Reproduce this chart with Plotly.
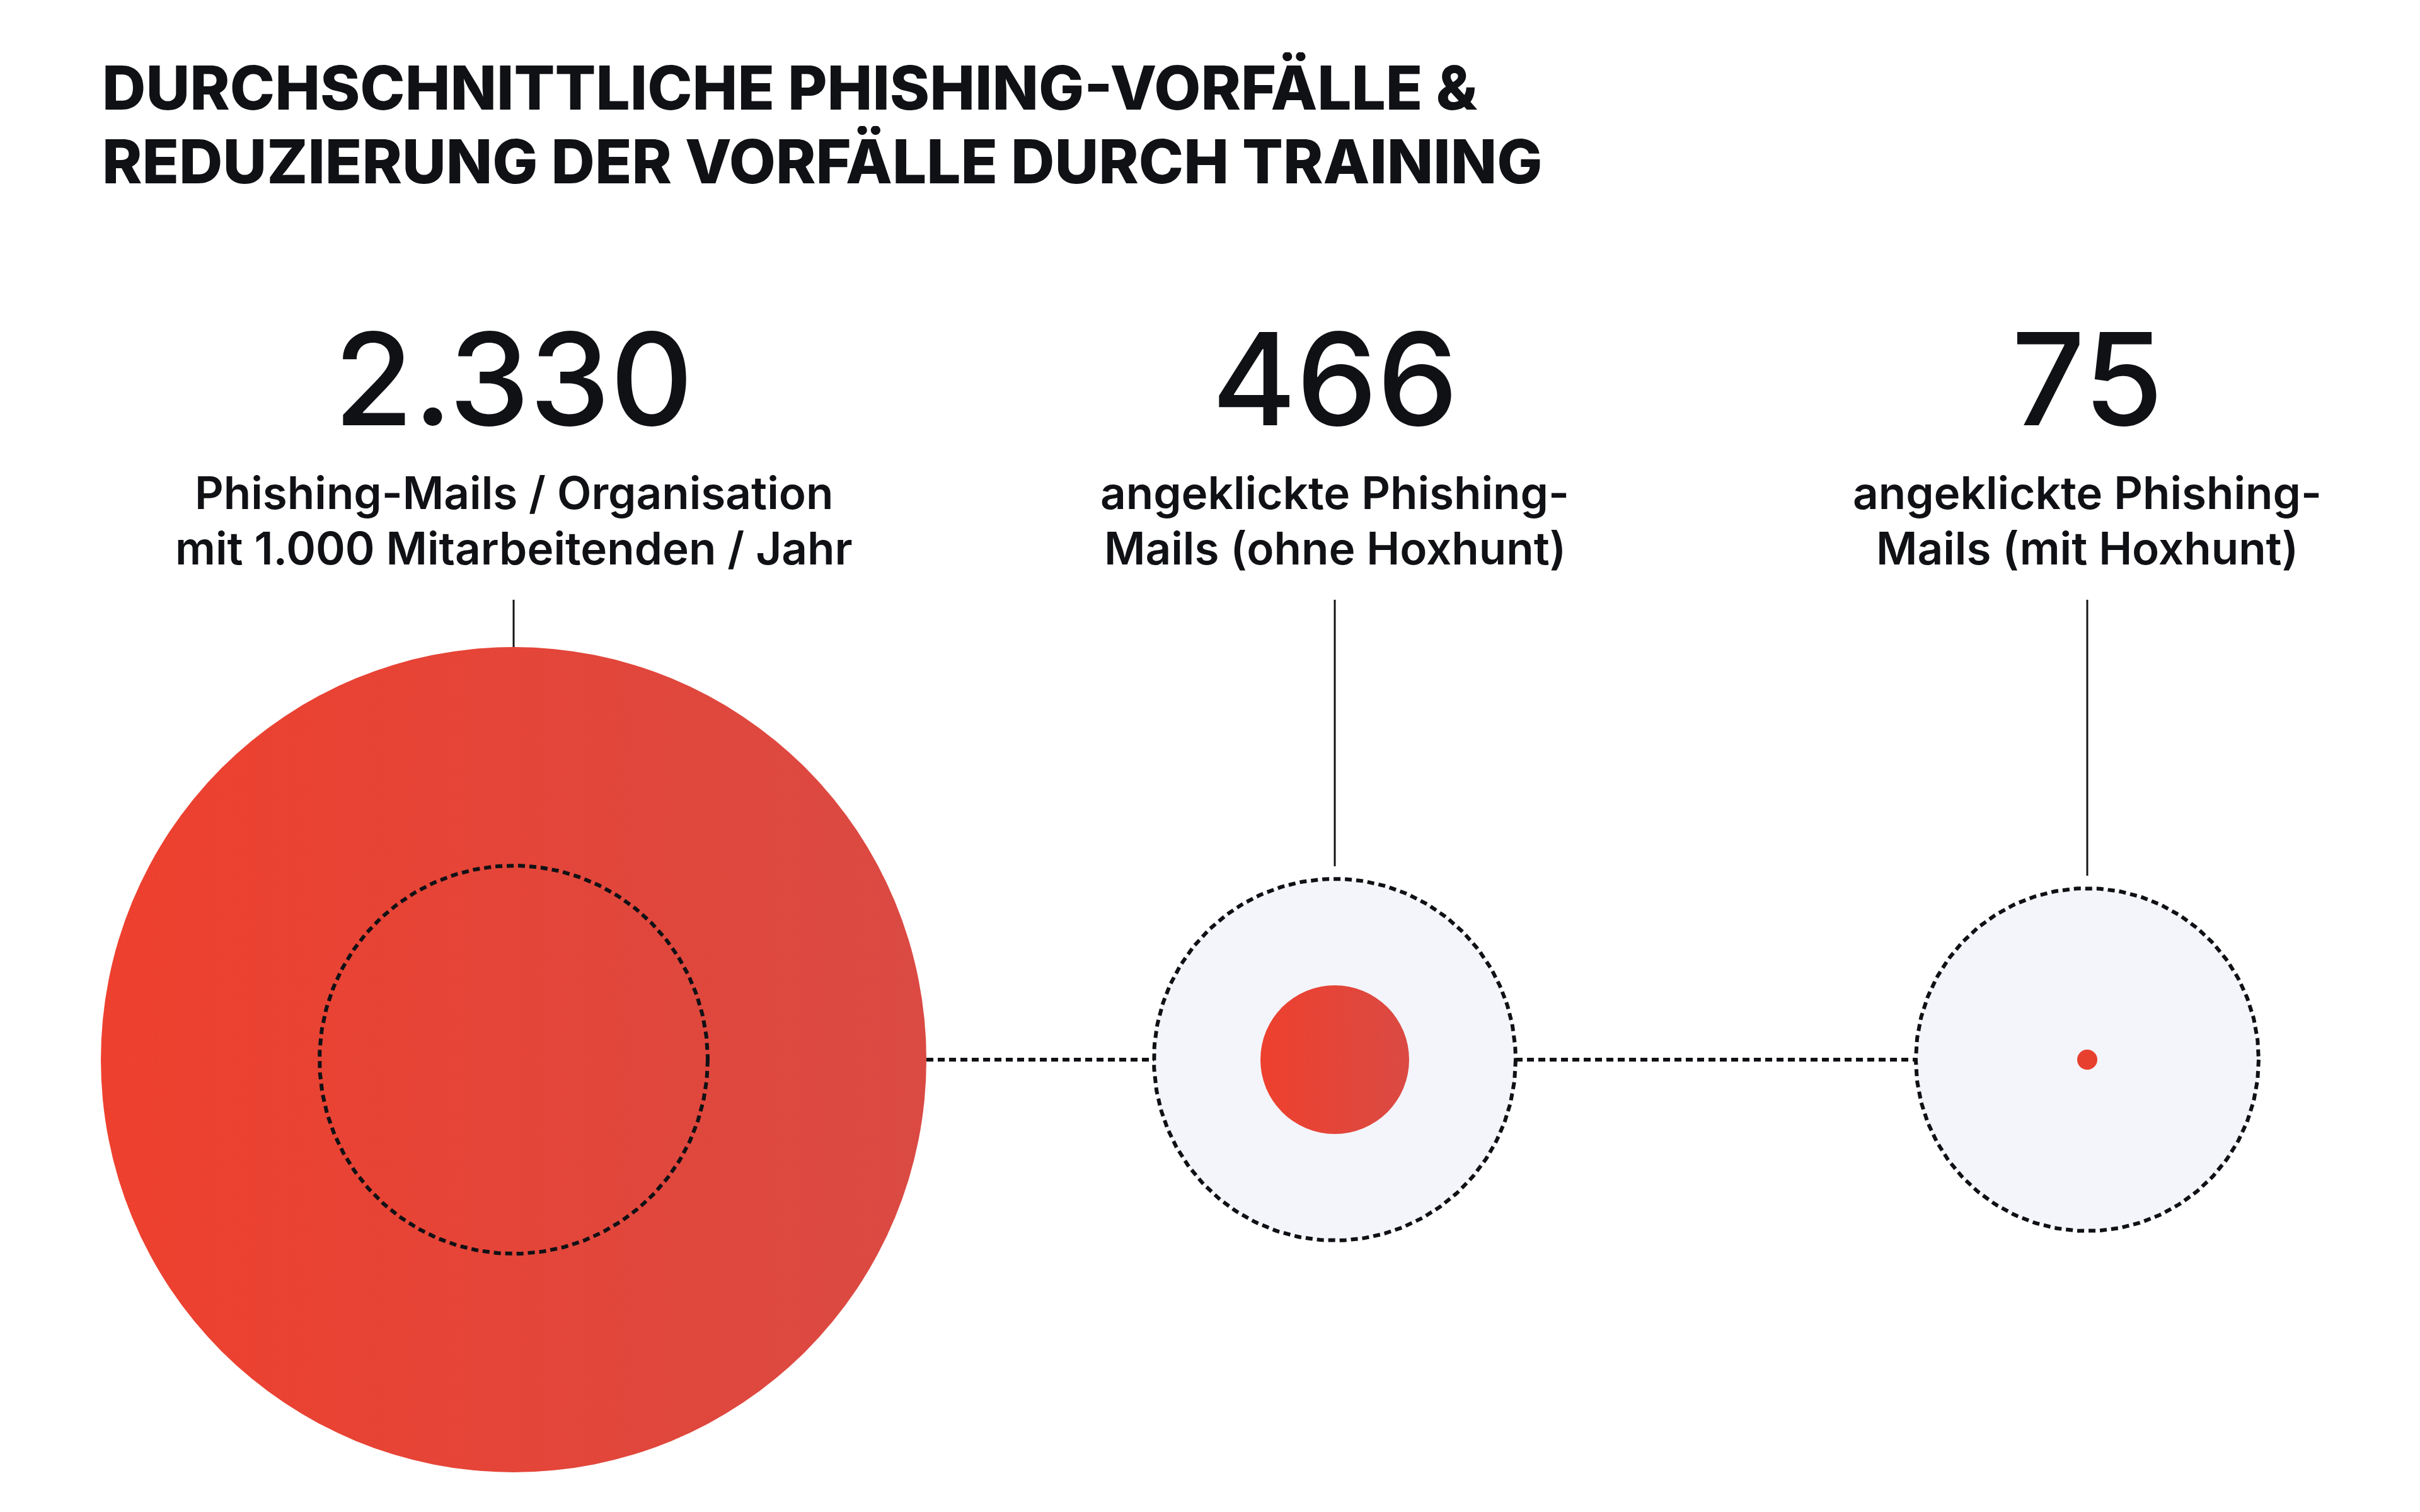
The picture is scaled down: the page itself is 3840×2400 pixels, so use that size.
import numpy as np
import plotly.graph_objects as go

# data
values = [2330, 466, 75]
number_labels = ["2.330", "466", "75"]
descriptions = [
    ["Phishing-Mails / Organisation", "mit 1.000 Mitarbeitenden / Jahr"],
    ["angeklickte Phishing-", "Mails (ohne Hoxhunt)"],
    ["angeklickte Phishing-", "Mails (mit Hoxhunt)"],
]
title_lines = ["DURCHSCHNITTLICHE PHISHING-VORFÄLLE &",
               "REDUZIERUNG DER VORFÄLLE DURCH TRAINING"]

# layout (pixel units, the axes span the whole page; body has an 8px margin)
W, H = 3840, 2400
PAD = 8
cx = [815, 2118, 3312]
cy = 1682
big_r = 655
ring_r = [308, 287, 272]
dot_r = [None, 118, 16]
INK = "#101115"
RED_L, RED_R = "#EE402E", "#DA4A43"
PALE = "#EEF1FA"
DASH = dict(color=INK, width=6, dash="11px,7px")

fig = go.Figure()

# big red circle (first value)
fig.add_trace(go.Scatter(
    x=[cx[0]], y=[cy], mode="markers",
    marker=dict(size=2 * big_r, color=RED_L, line_width=0,
                gradient=dict(type="horizontal", color=RED_R)),
    hoverinfo="skip"))

# pale discs for the other two
fig.add_trace(go.Scatter(
    x=cx[1:], y=[cy, cy], mode="markers",
    marker=dict(size=[2 * r for r in ring_r[1:]], color=PALE, line_width=0),
    hoverinfo="skip"))

# red dots inside pale discs
fig.add_trace(go.Scatter(
    x=[cx[1]], y=[cy], mode="markers",
    marker=dict(size=2 * dot_r[1], color=RED_L, line_width=0,
                gradient=dict(type="horizontal", color=RED_R)),
    hoverinfo="skip"))
fig.add_trace(go.Scatter(
    x=[cx[2]], y=[cy], mode="markers",
    marker=dict(size=2 * dot_r[2], color="#E8402F", line_width=0),
    hoverinfo="skip"))

# dotted rings
t = np.linspace(0, 2 * np.pi, 400)
for x0, r in zip(cx, ring_r):
    fig.add_trace(go.Scatter(
        x=x0 + r * np.cos(t), y=cy + r * np.sin(t), mode="lines",
        line=DASH, hoverinfo="skip"))

# dotted connectors
edges_right = [cx[0] + big_r, cx[1] + ring_r[1]]
edges_left = [cx[1] - ring_r[1], cx[2] - ring_r[2]]
for a, b in zip(edges_right, edges_left):
    fig.add_trace(go.Scatter(
        x=[a, b], y=[cy, cy], mode="lines", line=DASH, hoverinfo="skip"))

# leader lines
tops = [cy - big_r, cy - ring_r[1] - 20, cy - ring_r[2] - 20]
for x0, top in zip(cx, tops):
    fig.add_trace(go.Scatter(
        x=[x0, x0], y=[952, top], mode="lines",
        line=dict(color="#151515", width=3), hoverinfo="skip"))

# numbers and descriptions
for x0, num, desc in zip(cx, number_labels, descriptions):
    fig.add_annotation(x=x0, y=600, text=num, showarrow=False,
                       xanchor="center", yanchor="middle",
                       font=dict(family="Inter", size=204, color=INK, weight=500))
    for i, line in enumerate(desc):
        fig.add_annotation(x=x0, y=782 + i * 88, text=line, showarrow=False,
                           xanchor="center", yanchor="middle", height=84,
                           font=dict(family="Inter", size=71, color=INK, weight=600))

for i, line in enumerate(title_lines):
    fig.add_annotation(x=160, y=139 + i * 117, text=line, showarrow=False,
                       xanchor="left", yanchor="middle", height=112,
                       font=dict(family="Inter", size=96, color=INK, weight=800))

fig.update_layout(
    width=W - 2 * PAD, height=H - 2 * PAD, margin=dict(l=0, r=0, t=0, b=0),
    paper_bgcolor="white", plot_bgcolor="white", showlegend=False,
    xaxis=dict(range=[PAD, W - PAD], visible=False, fixedrange=True),
    yaxis=dict(range=[H - PAD, PAD], visible=False, fixedrange=True),
)

fig.write_html("out.html")
